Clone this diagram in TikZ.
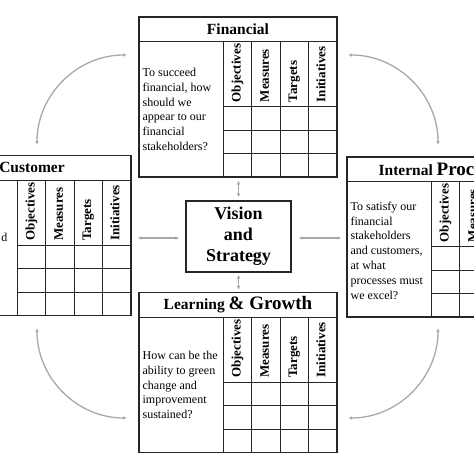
\documentclass[tikz,border=0pt]{standalone}
\usepackage{fontspec}
\setmainfont{Liberation Serif}
\usetikzlibrary{arrows.meta,calc}
\definecolor{linkgrey}{RGB}{168,168,168}
\newcommand{\bigpart}{\bfseries\fontsize{19}{22}\selectfont}
\tikzset{
  cardbox/.style={draw=black!85,line width=1.1pt,minimum width=198pt,minimum height=160pt,inner sep=0pt},
  gridline/.style={draw=black!85,line width=0.9pt},
  cardtitle/.style={font=\bfseries\fontsize{15.5}{18}\selectfont,inner sep=0pt},
  colhead/.style={font=\bfseries\fontsize{13}{15}\selectfont,rotate=90,anchor=west,inner sep=0pt,text height=9pt,text depth=3pt},
  question/.style={font=\fontsize{12}{14.8}\selectfont,align=left,anchor=west,inner sep=0pt},
  visionbox/.style={draw=black!85,line width=1.1pt,minimum width=105pt,minimum height=71pt,align=center,inner sep=0pt,font=\bfseries\fontsize{18}{21}\selectfont},
  link/.style={{Latex[length=4pt,width=3.5pt]}-{Latex[length=4pt,width=3.5pt]},line width=1.3pt,draw=linkgrey}
}

\begin{document}
\begin{tikzpicture}[x=1pt,y=-1pt]
  \useasboundingbox (0,0) rectangle (474,474);
  % the four perspective cards
  \foreach \card/\cx/\cy in {fin/238/97,cust/32/235.5,intp/446/237,lg/238/372.5}{
    \node[cardbox] (\card) at (\cx,\cy) {};
    \draw[gridline] ($(\card.north west)+(0,25)$) -- ($(\card.north east)+(0,25)$);
    \foreach \c in {0,1,2,3}
      \draw[gridline] ($(\card.north west)+(85+28.25*\c,25)$) -- ($(\card.south west)+(85+28.25*\c,0)$);
    \foreach \r in {0,1,2}
      \draw[gridline] ($(\card.north west)+(85,90+23.5*\r)$) -- ($(\card.north east)+(0,90+23.5*\r)$);
    \foreach \h [count=\c] in {Objectives,Measures,Targets,Initiatives}
      \node[colhead] (\card-h\c) at ($(\card.north west)+(70.875+28.25*\c,86)$) {\h};
  }
  \node[cardtitle] (fin-t) at ($(fin.north)+(0,13)$) {Financial};
  \node[cardtitle] (cust-t) at ($(cust.north)+(0,13)$) {Customer};
  \node[cardtitle] (intp-t) at ($(intp.north)+(0,12.5)$) {Internal {\bigpart Processes}};
  \node[cardtitle] (lg-t) at ($(lg.north)+(0,12.5)$) {Learning {\bigpart \& Growth}};
  \node[question] (fin-q) at ($(fin.west)+(4,12.5)$)
    {To succeed\\financial, how\\should we\\appear to our\\financial\\stakeholders?};
  \node[question,anchor=east] (cust-q) at (7.5,237) {d};
  \node[question] (intp-q) at ($(intp.west)+(4,13.5)$)
    {To satisfy our\\financial\\stakeholders\\and customers,\\at what\\processes must\\we excel?};
  \node[question] (lg-q) at ($(lg.west)+(4,12.5)$)
    {How can be the\\ability to green\\change and\\improvement\\sustained?};
  % centre
  \node[visionbox] (vision) at (238.5,236.5) {Vision\\and\\Strategy};
  \draw[link,shorten <=3pt,shorten >=3pt] (fin.south -| vision.north) -- (vision.north);
  \draw[link,shorten <=2pt,shorten >=2pt] (vision.south) -- (lg.north -| vision.south);
  \draw[link,shorten <=6pt,shorten >=6pt] ([yshift=-1.5pt]vision.west) -- ([yshift=-1.5pt]vision.west -| cust.east);
  \draw[link,shorten <=7pt,shorten >=5pt] ([yshift=-1.5pt]vision.east) -- ([yshift=-1.5pt]vision.east -| intp.west);
  % curved links between cards
  \coordinate (tl-a) at (37,145);
  \coordinate (tl-b) at (127,55);
  \coordinate (tr-a) at (348,55);
  \coordinate (tr-b) at (438,145);
  \coordinate (br-a) at (438,328);
  \coordinate (br-b) at (348,418);
  \coordinate (bl-a) at (127,418);
  \coordinate (bl-b) at (37,328);
  \draw[link] (tl-a) .. controls ($(tl-a)+(0,-50)$) and ($(tl-b)+(-50,0)$) .. (tl-b);
  \draw[link] (tr-a) .. controls ($(tr-a)+(50,0)$) and ($(tr-b)+(0,-50)$) .. (tr-b);
  \draw[link] (br-a) .. controls ($(br-a)+(0,50)$) and ($(br-b)+(50,0)$) .. (br-b);
  \draw[link] (bl-a) .. controls ($(bl-a)+(-50,0)$) and ($(bl-b)+(0,50)$) .. (bl-b);
\end{tikzpicture}
\end{document}
